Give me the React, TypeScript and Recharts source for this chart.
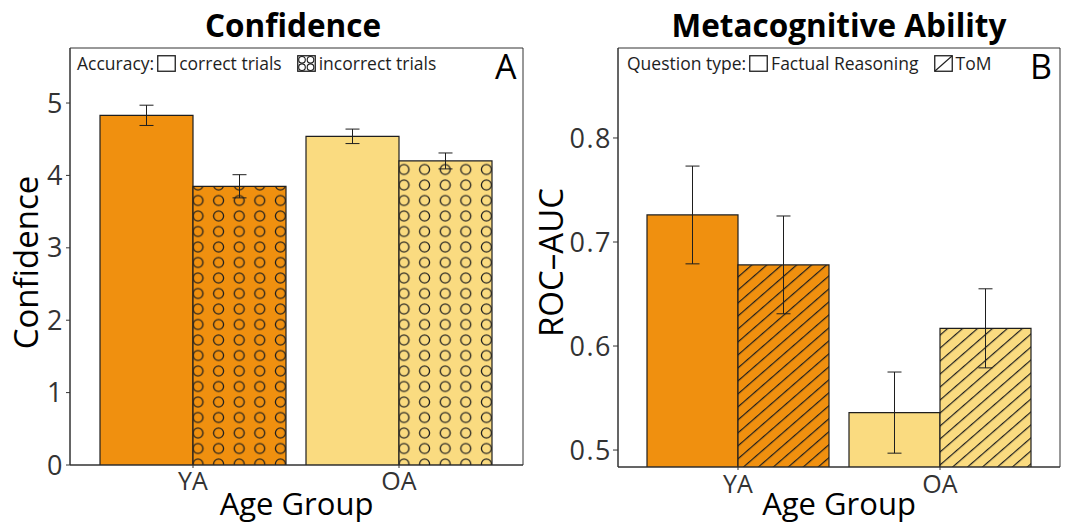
import React from 'react';
import { BarChart, Bar, XAxis, YAxis, ErrorBar, Cell, Legend, CartesianGrid } from 'recharts';

// values
const groups = ['YA', 'OA'];
const groupColors = ['#F0900F', '#FADB80'];

const confSeries = ['correct trials', 'incorrect trials'];
const confCorrect = [4.83, 4.54];
const confCorrectErr = [0.14, 0.1];
const confIncorrect = [3.85, 4.2];
const confIncorrectErr = [0.16, 0.11];
const confTicks = [0, 1, 2, 3, 4, 5];

const rocSeries = ['Factual Reasoning', 'ToM'];
const rocFactual = [0.726, 0.536];
const rocFactualErr = [0.047, 0.039];
const rocTom = [0.678, 0.617];
const rocTomErr = [0.047, 0.038];
const rocTicks = [0.5, 0.6, 0.7, 0.8];

const confData = groups.map((g, i) => ({
  group: g,
  correct: confCorrect[i],
  correctErr: confCorrectErr[i],
  incorrect: confIncorrect[i],
  incorrectErr: confIncorrectErr[i],
}));

const rocData = groups.map((g, i) => ({
  group: g,
  factual: rocFactual[i],
  factualErr: rocFactualErr[i],
  tom: rocTom[i],
  tomErr: rocTomErr[i],
}));

const FONT = "'Open Sans', 'Noto Sans', sans-serif";
const INK = '#1e1e1e';
const AXIS = '#333';

const xTickStyle = { fill: AXIS, fontSize: 25, fontFamily: FONT };
const yTickStyle = { fill: AXIS, fontSize: 27, fontFamily: FONT, letterSpacing: 1.5 };

// frame round the plot panel, from the chart's own offset
const frameH = ({ offset }: any) => [offset.top, offset.top + offset.height];
const frameV = ({ offset }: any) => [offset.left, offset.left + offset.width];

function Swatch({ kind }: { kind: 'plain' | 'circles' | 'hatch' }) {
  return (
    <svg width={19} height={17} style={{ display: 'block' }}>
      <rect x={0.75} y={0.75} width={17.5} height={15.5} fill="#fff" stroke={INK} strokeWidth={1.3} />
      {kind === 'circles' &&
        [[5, 4.8], [13.5, 4.8], [5, 12.2], [13.5, 12.2]].map(([cx, cy], i) => (
          <circle key={i} cx={cx} cy={cy} r={3.3} fill="none" stroke={INK} strokeWidth={1.1} />
        ))}
      {kind === 'hatch' && <line x1={1} y1={16} x2={18} y2={1} stroke={INK} strokeWidth={1.1} />}
    </svg>
  );
}

function LegendBox({ title, names, kinds }: { title: string; names: string[]; kinds: ('plain' | 'circles' | 'hatch')[] }) {
  return (
    <div style={{ display: 'flex', alignItems: 'center', fontFamily: FONT, fontSize: 17.5, color: INK, whiteSpace: 'nowrap' }}>
      <span style={{ marginRight: 3 }}>{title}</span>
      {names.map((n, i) => (
        <React.Fragment key={n}>
          <Swatch kind={kinds[i]} />
          <span style={{ marginLeft: 3, marginRight: 15 }}>{n}</span>
        </React.Fragment>
      ))}
    </div>
  );
}

function Patterns() {
  return (
    <defs>
      {groupColors.map((c, i) => (
        <pattern key={'c' + i} id={`circ-${i}`} patternUnits="userSpaceOnUse" x={2.3} y={6.75} width={20.6} height={15.5}>
          <rect width={20.6} height={15.5} fill={c} />
          <circle cx={10.3} cy={7.75} r={5} fill="none" stroke={INK} strokeWidth={1.3} />
        </pattern>
      ))}
      {groupColors.map((c, i) => (
        <pattern key={'h' + i} id={`hatch-${i}`} patternUnits="userSpaceOnUse" width={9.8} height={9.8} patternTransform="rotate(49)">
          <rect width={9.8} height={9.8} fill={c} />
          <line x1={0} y1={0} x2={0} y2={9.8} stroke={INK} strokeWidth={2.4} />
        </pattern>
      ))}
    </defs>
  );
}

const titleStyle = (center: number): React.CSSProperties => ({
  position: 'absolute',
  left: center - 250,
  width: 500,
  top: 10,
  textAlign: 'center',
  fontFamily: FONT,
  fontWeight: 700,
  fontSize: 31.5,
  lineHeight: '30px',
  color: '#000',
});

const letterStyle = (left: number): React.CSSProperties => ({
  position: 'absolute',
  left,
  top: 46,
  fontFamily: FONT,
  fontSize: 34,
  lineHeight: '40px',
  color: '#000',
});

export default function App() {
  return (
    <div style={{ position: 'absolute', left: 0, top: 0, width: 1067, height: 526, background: '#fff', overflow: 'hidden' }}>
      <div style={titleStyle(293)}>Confidence</div>
      <div style={titleStyle(839)}>Metacognitive Ability</div>

      <div style={{ position: 'absolute', left: 0, top: 0 }}>
        <BarChart width={530} height={526} data={confData} margin={{ top: 48, right: 7, left: 0, bottom: 0 }} barCategoryGap={10} barGap={0}>
          <Patterns />
          <CartesianGrid stroke={AXIS} horizontalCoordinatesGenerator={frameH} verticalCoordinatesGenerator={frameV} />
          <XAxis
            dataKey="group"
            height={61}
            padding={{ left: 20, right: 21 }}
            tick={xTickStyle}
            tickSize={3}
            tickMargin={4}
            stroke={AXIS}
            label={{ value: 'Age Group', position: 'insideBottom', offset: 11, fill: '#000', fontSize: 31, fontFamily: FONT }}
          />
          <YAxis
            width={70}
            domain={[0, 5.76]}
            ticks={confTicks}
            allowDataOverflow
            tick={yTickStyle}
            tickSize={4}
            tickMargin={2}
            stroke={AXIS}
            label={{ value: 'Confidence', angle: -90, position: 'insideLeft', offset: 26, dy: 6, fill: '#000', fontSize: 33, fontFamily: FONT, style: { textAnchor: 'middle' } }}
          />
          <Legend
            layout="horizontal"
            verticalAlign="middle"
            align="center"
            wrapperStyle={{ left: 77, top: 51, width: 'auto' }}
            content={() => <LegendBox title="Accuracy:" names={confSeries} kinds={['plain', 'circles']} />}
          />
          <Bar dataKey="correct" name={confSeries[0]} isAnimationActive={false} stroke={INK} strokeWidth={1.2}>
            {confData.map((d, i) => (
              <Cell key={d.group} fill={groupColors[i]} />
            ))}
            <ErrorBar dataKey="correctErr" width={7} stroke={INK} strokeWidth={1} />
          </Bar>
          <Bar dataKey="incorrect" name={confSeries[1]} isAnimationActive={false} stroke={INK} strokeWidth={1.2}>
            {confData.map((d, i) => (
              <Cell key={d.group} fill={`url(#circ-${i})`} />
            ))}
            <ErrorBar dataKey="incorrectErr" width={7} stroke={INK} strokeWidth={1} />
          </Bar>
        </BarChart>
      </div>

      <div style={{ position: 'absolute', left: 518, top: 0 }}>
        <BarChart width={549} height={526} data={rocData} margin={{ top: 48, right: 7, left: 0, bottom: 0 }} barCategoryGap={10} barGap={0}>
          <Patterns />
          <CartesianGrid stroke={AXIS} horizontalCoordinatesGenerator={frameH} verticalCoordinatesGenerator={frameV} />
          <XAxis
            dataKey="group"
            height={59}
            padding={{ left: 19, right: 19 }}
            tick={xTickStyle}
            tickSize={3}
            tickMargin={5}
            stroke={AXIS}
            label={{ value: 'Age Group', position: 'insideBottom', offset: 11, fill: '#000', fontSize: 31, fontFamily: FONT }}
          />
          <YAxis
            width={100}
            domain={[0.4837, 0.8865]}
            ticks={rocTicks}
            allowDataOverflow
            tickFormatter={(v: number) => v.toFixed(1)}
            tick={yTickStyle}
            tickSize={5}
            tickMargin={1}
            stroke={AXIS}
            label={{ value: 'ROC–AUC', angle: -90, position: 'insideLeft', offset: 33, dy: 5, fill: '#000', fontSize: 33, fontFamily: FONT, style: { textAnchor: 'middle' } }}
          />
          <Legend
            layout="horizontal"
            verticalAlign="middle"
            align="center"
            wrapperStyle={{ left: 109, top: 51, width: 'auto' }}
            content={() => <LegendBox title="Question type:" names={rocSeries} kinds={['plain', 'hatch']} />}
          />
          <Bar dataKey="factual" name={rocSeries[0]} isAnimationActive={false} stroke={INK} strokeWidth={1.2}>
            {rocData.map((d, i) => (
              <Cell key={d.group} fill={groupColors[i]} />
            ))}
            <ErrorBar dataKey="factualErr" width={7} stroke={INK} strokeWidth={1} />
          </Bar>
          <Bar dataKey="tom" name={rocSeries[1]} isAnimationActive={false} stroke={INK} strokeWidth={1.2}>
            {rocData.map((d, i) => (
              <Cell key={d.group} fill={`url(#hatch-${i})`} />
            ))}
            <ErrorBar dataKey="tomErr" width={7} stroke={INK} strokeWidth={1} />
          </Bar>
        </BarChart>
      </div>

      <div style={letterStyle(495)}>A</div>
      <div style={letterStyle(1030)}>B</div>
    </div>
  );
}
